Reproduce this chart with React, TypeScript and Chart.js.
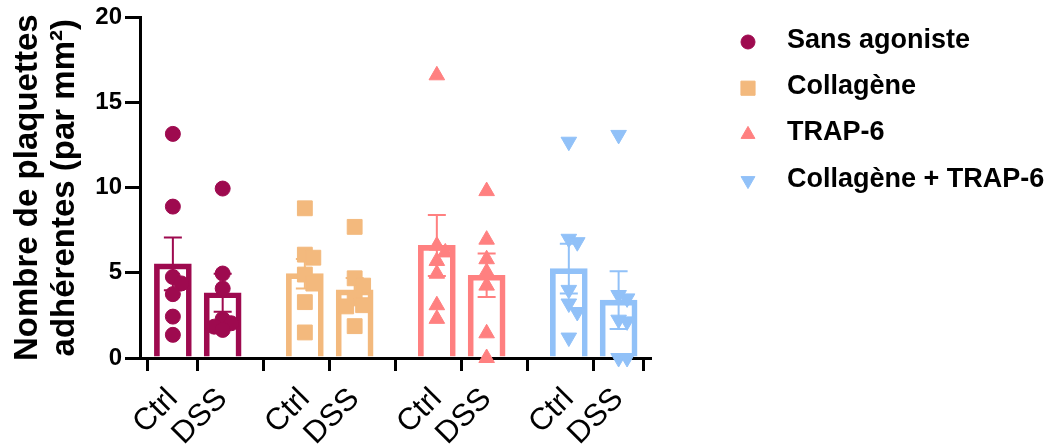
import React, { useEffect, useRef } from 'react';
import { Chart, registerables } from 'chart.js';
import { drawPoint } from 'chart.js/helpers';

Chart.register(...registerables);

const FONT = '"Liberation Sans", Arial, Helvetica, sans-serif';

// ---- data ----
const categories = ['Ctrl', 'DSS'];
const seriesNames = ['Sans agoniste', 'Collagène', 'TRAP-6', 'Collagène + TRAP-6'];
const yTicks = [0, 5, 10, 15, 20];
const yTitle = ['Nombre de plaquettes', 'adhérentes (par mm²)'];

// individual points (per group: Ctrl, DSS)
const sansCtrl = [13.16, 8.89, 4.76, 4.38, 3.75, 2.43, 1.36];
const sansDSS = [9.95, 4.96, 4.08, 2.29, 2.04, 1.84, 1.65];
const collCtrl = [8.79, 6.07, 5.89, 4.9, 4.37, 3.28, 1.5];
const collDSS = [7.7, 4.68, 4.25, 3.5, 3.1, 3.03, 1.87];
const trapCtrl = [16.6, 6.6, 6.2, 5.7, 4.95, 3.1, 2.3];
const trapDSS = [9.8, 6.95, 5.8, 5.05, 4.25, 1.45, 0];
const combCtrl = [12.7, 7.0, 6.8, 4.0, 3.2, 2.7, 1.2];
const combDSS = [13.1, 3.7, 3.5, 2.25, 2.15, 0, 0];

// bar means and SEM (Ctrl, DSS)
const sansMean = [5.53, 3.83];
const sansSem = [1.55, 1.12];
const collMean = [4.95, 4.0];
const collSem = [0.87, 0.7];
const trapMean = [6.61, 4.86];
const trapSem = [1.79, 1.28];
const combMean = [5.25, 3.4];
const combSem = [1.46, 1.7];

// ---- styles ----
const seriesColors = ['#9E0A4F', '#F3B97D', '#FF8080', '#91C1F8'];
const pointStyles = ['circle', 'rect', 'triangle', 'triangle'];
const pointRotations = [0, 0, 0, 180];
const pointRadii = [7.5, 10.5, 9, 9];
const legendRadii = [7, 10, 8, 8];

const GROUP_SPACING = 2.65;
const groupPos = (g: number, c: number) => g * GROUP_SPACING + c;
const tickPositions = [0, 1, 2, 3].flatMap((g) => [groupPos(g, 0), groupPos(g, 1)]);

// deterministic light jitter so overlapping points spread sideways
function swarm(values: number[], center: number) {
  const placed: { x: number; y: number }[] = [];
  const step = 0.17;
  const minDy = 0.6;
  const cands = [0, 1, -1];
  for (const v of values) {
    let best = 0;
    let bestScore = -1;
    for (const c of cands) {
      const x = center + c * step;
      const near = placed.filter((p) => Math.abs(p.x - x) < step * 0.5);
      const d = near.length ? Math.min(...near.map((p) => Math.abs(p.y - v))) : Infinity;
      if (d >= minDy) {
        best = c;
        break;
      }
      if (d > bestScore) {
        bestScore = d;
        best = c;
      }
    }
    placed.push({ x: center + best * step, y: v });
  }
  return placed;
}

const pointsBySeries = [
  [sansCtrl, sansDSS],
  [collCtrl, collDSS],
  [trapCtrl, trapDSS],
  [combCtrl, combDSS],
];
const meansBySeries = [sansMean, collMean, trapMean, combMean];
const semsBySeries = [sansSem, collSem, trapSem, combSem];

const errorBarPlugin = {
  id: 'errorBars',
  afterDatasetDraw(chart: any, args: any) {
    const ds = chart.data.datasets[args.index];
    if (!ds.sem) return;
    const { ctx } = chart;
    const x = chart.scales.x;
    const y = chart.scales.y;
    ctx.save();
    ctx.strokeStyle = ds.borderColor;
    ctx.lineWidth = 2;
    ds.data.forEach((d: any, i: number) => {
      const px = x.getPixelForValue(d.x);
      const top = y.getPixelForValue(d.y + ds.sem[i]);
      const bot = y.getPixelForValue(d.y - ds.sem[i]);
      ctx.beginPath();
      ctx.moveTo(px, top);
      ctx.lineTo(px, bot);
      ctx.moveTo(px - 9, top);
      ctx.lineTo(px + 9, top);
      ctx.moveTo(px - 9, bot);
      ctx.lineTo(px + 9, bot);
      ctx.stroke();
    });
    ctx.restore();
  },
};

const legendPlugin = {
  id: 'sideLegend',
  afterDraw(chart: any) {
    const { ctx } = chart;
    const markerX = 748;
    const textX = 787;
    const y0 = 42;
    const dy = 46.2;
    seriesNames.forEach((name, i) => {
      const y = y0 + i * dy;
      ctx.save();
      ctx.fillStyle = seriesColors[i];
      ctx.strokeStyle = seriesColors[i];
      ctx.lineWidth = 1;
      drawPoint(ctx, { pointStyle: pointStyles[i], rotation: pointRotations[i], radius: legendRadii[i], borderWidth: 1 } as any, markerX, y);
      ctx.fillStyle = '#000';
      ctx.font = `bold 27px ${FONT}`;
      ctx.textBaseline = 'middle';
      ctx.textAlign = 'left';
      ctx.fillText(name, textX, y - 1.5);
      ctx.restore();
    });
  },
};

export default function App() {
  const ref = useRef<HTMLCanvasElement>(null);
  useEffect(() => {
    if (!ref.current) return;
    const datasets: any[] = [];
    seriesNames.forEach((name, s) => {
      datasets.push({
        type: 'bar',
        label: name,
        data: categories.map((_, c) => ({ x: groupPos(s, c), y: meansBySeries[s][c] })),
        sem: semsBySeries[s],
        backgroundColor: 'rgba(0,0,0,0)',
        borderColor: seriesColors[s],
        borderWidth: 5,
        barThickness: 37,
        grouped: false,
        order: 2,
      });
    });
    seriesNames.forEach((name, s) => {
      const pts = categories.flatMap((_, c) => swarm(pointsBySeries[s][c], groupPos(s, c)));
      datasets.push({
        type: 'scatter',
        label: name,
        data: pts,
        backgroundColor: seriesColors[s],
        borderColor: seriesColors[s],
        borderWidth: 1,
        pointStyle: pointStyles[s],
        rotation: pointRotations[s],
        radius: pointRadii[s],
        clip: false,
        order: 1,
      });
    });

    const chart = new Chart(ref.current, {
      type: 'bar',
      data: { datasets },
      options: {
        animation: false,
        responsive: false,
        devicePixelRatio: 1,
        layout: { padding: { top: 16, right: 401, left: 0, bottom: 0 } },
        plugins: { legend: { display: false }, tooltip: { enabled: false } },
        scales: {
          x: {
            type: 'linear',
            min: -0.66,
            max: 9.58,
            offset: false,
            afterBuildTicks: (s: any) => {
              s.ticks = tickPositions.map((v) => ({ value: v }));
            },
            afterFit: (s: any) => {
              s.height = 90;
            },
            ticks: {
              autoSkip: false,
              minRotation: 45,
              maxRotation: 45,
              padding: 10,
              color: '#000',
              font: { family: FONT, size: 31 },
              callback: (_v: any, i: number) => categories[i % 2],
            },
            grid: { display: true, drawOnChartArea: false, drawTicks: true, tickLength: 13, color: '#000', lineWidth: 3 },
            border: { display: true, color: '#000', width: 3 },
          },
          y: {
            min: 0,
            max: 20,
            afterBuildTicks: (s: any) => {
              s.ticks = yTicks.map((v) => ({ value: v }));
            },
            afterFit: (s: any) => {
              s.width = 140;
            },
            ticks: { color: '#000', padding: 3, font: { family: FONT, size: 24, weight: 'bold' } },
            grid: { display: true, drawOnChartArea: false, drawTicks: true, tickLength: 15, color: '#000', lineWidth: 3 },
            border: { display: true, color: '#000', width: 3 },
            title: {
              display: true,
              text: yTitle,
              color: '#000',
              font: { family: FONT, size: 33, weight: 'bold', lineHeight: 1.12 },
              padding: { top: 9, bottom: 0 },
            },
          },
        },
      } as any,
      plugins: [errorBarPlugin, legendPlugin],
    });
    return () => chart.destroy();
  }, []);

  return (
    <div style={{ position: 'absolute', left: 0, top: 0, width: 1051, height: 448 }}>
      <canvas ref={ref} width={1051} height={448} style={{ display: 'block' }} />
    </div>
  );
}
